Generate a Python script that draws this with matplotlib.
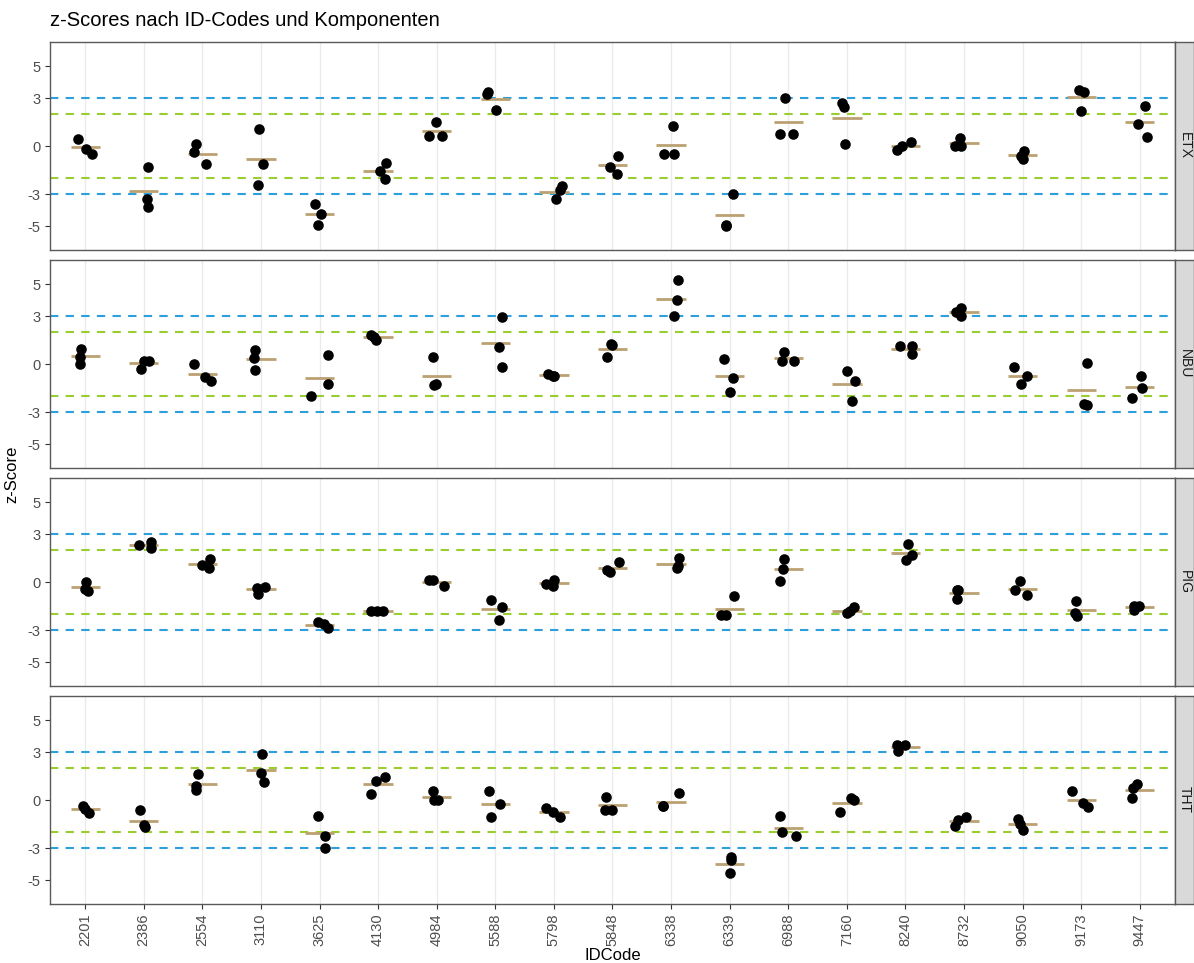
import matplotlib
matplotlib.use("Agg")
import matplotlib.pyplot as plt
import numpy as np

plt.rcParams['font.family'] = ['Liberation Sans', 'DejaVu Sans']

id_codes = ["2201", "2386", "2554", "3110", "3625", "4130", "4984", "5588", "5798",
            "5848", "6338", "6339", "6988", "7160", "8240", "8732", "9050", "9173", "9447"]
components = ["ETX", "NBU", "PIG", "THT"]

ETX_vals = [
    [0.42, -0.21, -0.48], [-1.32, -3.30, -3.83], [0.10, -0.40, -1.15], [1.09, -1.15, -2.41],
    [-3.60, -4.27, -4.92], [-1.07, -1.57, -2.05], [1.51, 0.61, 0.61], [3.35, 3.22, 2.24],
    [-2.53, -2.74, -3.33], [-0.63, -1.30, -1.72], [1.26, -0.50, -0.50], [-3.02, -4.93, -4.97],
    [3.00, 0.73, 0.73], [2.68, 2.43, 0.13], [0.25, 0.00, -0.25], [0.48, 0.00, 0.00],
    [-0.31, -0.63, -0.84], [3.52, 3.40, 2.18], [2.47, 1.38, 0.59]]
NBU_vals = [
    [0.96, 0.45, 0.00], [0.20, 0.20, -0.30], [0.00, -0.79, -1.06], [0.89, 0.37, -0.39],
    [0.54, -1.25, -1.97], [1.84, 1.67, 1.53], [0.43, -1.25, -1.34], [2.96, 1.08, -0.18],
    [-0.60, -0.73, -0.73], [1.25, 1.17, 0.41], [5.25, 4.00, 2.98], [0.33, -0.85, -1.73],
    [0.75, 0.20, 0.20], [-0.43, -1.04, -2.30], [1.14, 1.14, 0.62], [3.48, 3.27, 3.02],
    [-0.20, -0.77, -1.22], [0.09, -2.50, -2.54], [-0.75, -1.53, -2.12]]
PIG_vals = [
    [0.00, -0.43, -0.58], [2.29, 2.52, 2.15], [1.06, 0.89, 1.41], [-0.37, -0.72, -0.30],
    [-2.50, -2.62, -2.85], [-1.80, -1.80, -1.80], [0.12, 0.12, -0.22], [-1.14, -1.56, -2.35],
    [-0.12, 0.12, -0.26], [1.27, 0.77, 0.65], [1.48, 0.98, 0.85], [-0.90, -2.04, -2.08],
    [1.44, 0.83, 0.08], [-1.58, -1.83, -1.94], [2.38, 1.67, 1.35], [-0.52, -0.52, -1.06],
    [0.04, -0.48, -0.81], [-1.17, -1.94, -2.10], [-1.48, -1.48, -1.73]]
THT_vals = [
    [-0.35, -0.55, -0.80], [-0.64, -1.58, -1.70], [1.60, 0.87, 0.60], [2.86, 1.66, 1.12],
    [-0.99, -2.27, -3.00], [0.39, 1.18, 1.41], [0.55, 0.03, 0.03], [0.55, -0.22, -1.08],
    [-0.53, -0.74, -1.04], [0.20, -0.60, -0.60], [0.41, -0.35, -0.35], [-3.59, -3.74, -4.58],
    [-1.02, -2.02, -2.27], [-0.72, -0.01, 0.12], [3.42, 3.09, 3.42], [-1.06, -1.27, -1.60],
    [-1.19, -1.48, -1.90], [0.55, -0.18, -0.43], [0.99, 0.74, 0.13]]

# horizontal jitter (category units)
ETX_jit = [
    [-0.12, 0.01, 0.12], [0.08, 0.05, 0.07], [-0.11, -0.15, 0.06], [-0.04, 0.03, -0.05],
    [-0.08, 0.03, -0.02], [0.14, 0.03, 0.12], [-0.02, -0.13, 0.09], [-0.12, -0.14, 0.02],
    [0.14, 0.11, 0.03], [0.09, -0.05, 0.07], [0.03, -0.12, 0.05], [0.05, -0.07, -0.06],
    [-0.05, -0.14, 0.08], [-0.08, -0.05, -0.03], [0.09, -0.06, -0.15], [-0.07, -0.15, -0.05],
    [0.03, -0.03, 0.00], [-0.04, 0.05, -0.01], [0.09, -0.03, 0.12]]
NBU_jit = [
    [-0.07, -0.09, -0.09], [0.00, 0.09, -0.05], [-0.14, 0.04, 0.14], [-0.10, -0.12, -0.10],
    [0.14, 0.14, -0.14], [-0.12, -0.07, -0.04], [-0.07, -0.01, -0.04], [0.11, 0.07, 0.12],
    [-0.10, 0.01, -0.02], [-0.02, 0.00, -0.09], [0.12, 0.10, 0.05], [-0.10, 0.05, 0.01],
    [-0.07, -0.10, 0.09], [0.01, 0.14, 0.09], [-0.10, 0.11, 0.11], [-0.05, -0.14, -0.06],
    [-0.14, 0.08, -0.03], [0.10, 0.05, 0.10], [0.02, 0.03, -0.14]]
PIG_jit = [
    [0.01, -0.01, 0.05], [-0.08, 0.13, 0.12], [-0.01, 0.11, 0.13], [-0.07, -0.05, 0.07],
    [-0.03, 0.08, 0.14], [-0.13, -0.02, 0.08], [-0.14, -0.06, 0.12], [-0.07, 0.11, 0.07],
    [-0.14, 0.00, -0.01], [0.11, -0.09, -0.05], [0.14, 0.12, 0.10], [0.07, -0.14, -0.07],
    [-0.07, -0.09, -0.14], [0.13, 0.05, 0.00], [0.05, 0.12, 0.01], [-0.12, -0.10, -0.12],
    [-0.05, -0.13, 0.08], [-0.09, -0.10, -0.07], [-0.10, -0.01, -0.10]]
THT_jit = [
    [-0.03, 0.00, 0.07], [-0.07, 0.01, 0.02], [-0.07, -0.10, -0.10], [0.01, 0.00, 0.05],
    [-0.03, 0.10, 0.10], [-0.12, -0.03, 0.12], [-0.07, -0.05, 0.03], [-0.11, 0.08, -0.07],
    [-0.13, -0.02, 0.11], [-0.11, -0.12, -0.01], [0.14, -0.13, -0.13], [0.02, 0.02, 0.01],
    [-0.14, -0.10, 0.14], [-0.12, 0.12, 0.07], [-0.15, -0.12, 0.00], [0.03, -0.11, -0.15],
    [-0.08, -0.05, 0.00], [-0.15, 0.03, 0.11], [-0.05, -0.12, -0.13]]

values = {"ETX": ETX_vals, "NBU": NBU_vals, "PIG": PIG_vals, "THT": THT_vals}
jitters = {"ETX": ETX_jit, "NBU": NBU_jit, "PIG": PIG_jit, "THT": THT_jit}

y_ticks = [-5, -3, 0, 3, 5]
warn_limits = [-2, 2]
action_limits = [-3, 3]

W, H = 1194, 963
fig = plt.figure(figsize=(W / 100, H / 100), dpi=100)

px_left, px_right = 50, 1175
panel_tops = [42, 260, 478, 696]
panel_h = 208
strip_w = 19

blue = "#2E9FDB"
green = "#9ACD32"
tan = "#BBA171"
border = "#5A5A5A"

n = len(id_codes)
xpos = np.arange(n)

for k, comp in enumerate(components):
    top = panel_tops[k]
    ax = fig.add_axes([px_left / W, 1 - (top + panel_h) / H,
                       (px_right - px_left) / W, panel_h / H])
    ax.set_xlim(-0.6, n - 1 + 0.6)
    ax.set_ylim(-6.5, 6.5)
    for x in xpos:
        ax.axvline(x, color="#EBEBEB", lw=1.0, zorder=0)
    for yv in action_limits:
        ax.axhline(yv, color=blue, lw=1.5, ls=(0, (4, 3.5)), zorder=1)
    for yv in warn_limits:
        ax.axhline(yv, color=green, lw=1.5, ls=(0, (4, 3.5)), zorder=1)
    vals = np.array(values[comp])
    jit = np.array(jitters[comp])
    means = vals.mean(axis=1)
    ax.hlines(means, xpos - 0.25, xpos + 0.25, color=tan, lw=2.0, zorder=2)
    xs = (xpos[:, None] + jit).ravel()
    ax.scatter(xs, vals.ravel(), s=58, color="black", zorder=3, linewidths=0)

    ax.set_yticks(y_ticks)
    ax.set_yticklabels([str(t) for t in y_ticks])
    ax.set_xticks(xpos)
    ax.tick_params(axis="both", colors="#333333", labelcolor="#4D4D4D",
                   labelsize=10.5, length=3.5, width=0.8)
    if k == len(components) - 1:
        ax.set_xticklabels(id_codes, rotation=90)
    else:
        ax.set_xticklabels([])
        ax.tick_params(axis="x", length=0)
    for sp in ax.spines.values():
        sp.set_color(border)
        sp.set_linewidth(1.0)

    sax = fig.add_axes([px_right / W, 1 - (top + panel_h) / H, strip_w / W, panel_h / H])
    sax.set_facecolor("#D9D9D9")
    sax.set_xticks([])
    sax.set_yticks([])
    for sp in sax.spines.values():
        sp.set_color(border)
        sp.set_linewidth(1.0)
    sax.text(0.5, 0.5, comp, rotation=-90, ha="center", va="center",
             fontsize=10, color="#1A1A1A", transform=sax.transAxes)

fig.text(50 / W, 1 - 20 / H, "z-Scores nach ID-Codes und Komponenten",
         ha="left", va="center", fontsize=14.5, color="black")
fig.text(12 / W, 1 - 474 / H, "z-Score", rotation=90, ha="center", va="center",
         fontsize=12, color="black")
fig.text((px_left + px_right) / 2 / W, 1 - 955 / H, "IDCode", ha="center", va="center",
         fontsize=12, color="black")

fig.savefig("out.png", dpi=100)
